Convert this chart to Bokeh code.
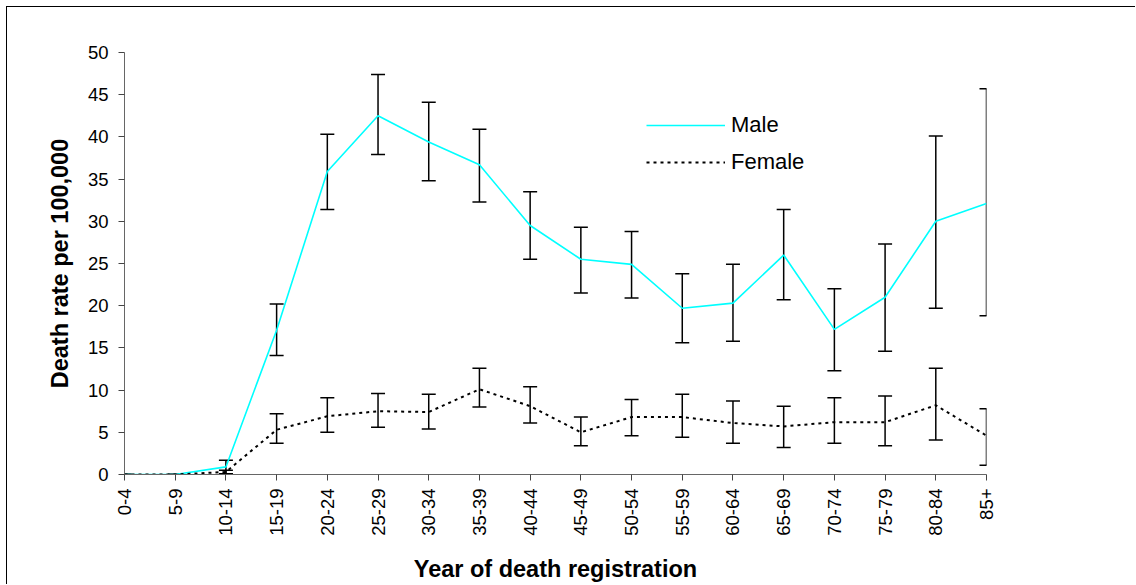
import math
from bokeh.plotting import figure
from bokeh.models import (Range1d, FixedTicker, Whisker, ColumnDataSource, TeeHead,
                          Legend, LegendItem)
from bokeh.embed import file_html
from bokeh.resources import INLINE

categories = ["0-4", "5-9", "10-14", "15-19", "20-24", "25-29", "30-34", "35-39",
              "40-44", "45-49", "50-54", "55-59", "60-64", "65-69", "70-74",
              "75-79", "80-84", "85+"]
male = [0, 0, 0.9, 17.1, 35.9, 42.5, 39.4, 36.7, 29.5, 25.5, 24.9, 19.7, 20.3,
        26.0, 17.2, 21.0, 30.0, 32.1]
male_lo = [0, 0, 0.1, 14.1, 31.4, 37.9, 34.8, 32.3, 25.5, 21.5, 20.9, 15.6, 15.8,
           20.7, 12.3, 14.6, 19.7, 18.8]
male_hi = [0, 0, 1.7, 20.2, 40.3, 47.4, 44.1, 40.9, 33.5, 29.3, 28.8, 23.8, 24.9,
           31.4, 22.0, 27.3, 40.1, 45.7]
female = [0, 0, 0.3, 5.3, 6.9, 7.5, 7.4, 10.1, 8.1, 5.0, 6.8, 6.8, 6.1, 5.7, 6.2,
          6.2, 8.2, 4.6]
female_lo = [0, 0, 0.1, 3.7, 5.0, 5.6, 5.4, 8.0, 6.1, 3.4, 4.6, 4.4, 3.7, 3.2, 3.7,
             3.4, 4.1, 1.1]
female_hi = [0, 0, 0.5, 7.2, 9.1, 9.6, 9.5, 12.6, 10.4, 6.8, 8.9, 9.5, 8.7, 8.1, 9.1,
             9.3, 12.6, 7.8]
y_ticks = [0, 5, 10, 15, 20, 25, 30, 35, 40, 45, 50]

xs = list(range(len(categories)))
src = ColumnDataSource(dict(x=xs, male=male, male_lo=male_lo, male_hi=male_hi,
                            female=female, female_lo=female_lo, female_hi=female_hi))

W, H = 1129, 578
p = figure(width=W, height=H, output_backend="svg", toolbar_location=None,
           x_range=Range1d(0, len(categories) - 1), y_range=Range1d(0, 50),
           min_border_left=117, min_border_top=45, min_border_bottom=111,
           min_border_right=150)
p.styles = {"margin-left": "6px", "margin-top": "6px",
            "border-left": "1px solid black", "border-top": "1px solid black"}
p.outline_line_color = None
p.grid.visible = False
p.background_fill_color = "white"
p.border_fill_color = "white"

FONT = "Liberation Sans"
for ax in (p.xaxis[0], p.yaxis[0]):
    ax.axis_line_color = "#666666"
    ax.major_tick_line_color = "#444444"
    ax.major_tick_out = 6
    ax.major_tick_in = 0
    ax.minor_tick_line_color = None
    ax.major_label_text_font = FONT
    ax.major_label_text_font_size = "18.5px"
    ax.major_label_text_color = "black"
    ax.axis_label_text_font = FONT
    ax.axis_label_text_font_size = "23.5px"
    ax.axis_label_text_font_style = "bold"
    ax.axis_label_text_color = "black"

p.xaxis.ticker = FixedTicker(ticks=xs)
p.xaxis.major_label_overrides = {i: c for i, c in enumerate(categories)}
p.xaxis.major_label_orientation = math.pi / 2
p.xaxis.major_label_standoff = 8
p.xaxis.axis_label = "Year of death registration"
p.xaxis.axis_label_standoff = 17

p.yaxis.ticker = FixedTicker(ticks=y_ticks)
p.yaxis.major_label_standoff = 10
p.yaxis.axis_label = "Death rate per 100,000"
p.yaxis.axis_label_standoff = 12

male_r = p.line("x", "male", source=src, line_color="#00FFFF", line_width=1.6)
female_r = p.line("x", "female", source=src, line_color="black", line_width=2,
                  line_dash="3 4")

for lo, hi in (("male_lo", "male_hi"), ("female_lo", "female_hi")):
    w = Whisker(base="x", lower=lo, upper=hi, source=src,
                line_color="black", line_width=1.5,
                upper_head=TeeHead(size=14, line_color="black", line_width=1.5),
                lower_head=TeeHead(size=14, line_color="black", line_width=1.5))
    p.add_layout(w)

legend = Legend(items=[LegendItem(label="Male", renderers=[male_r]),
                       LegendItem(label="Female", renderers=[female_r])],
                location=(522, 297), orientation="vertical",
                glyph_width=79, glyph_height=30, label_height=30,
                label_standoff=6, spacing=7, padding=0, margin=0,
                border_line_color=None, background_fill_alpha=0,
                label_text_font=FONT, label_text_font_size="22px",
                label_text_color="black")
p.add_layout(legend)

open("out.html", "w").write(file_html(p, INLINE))
